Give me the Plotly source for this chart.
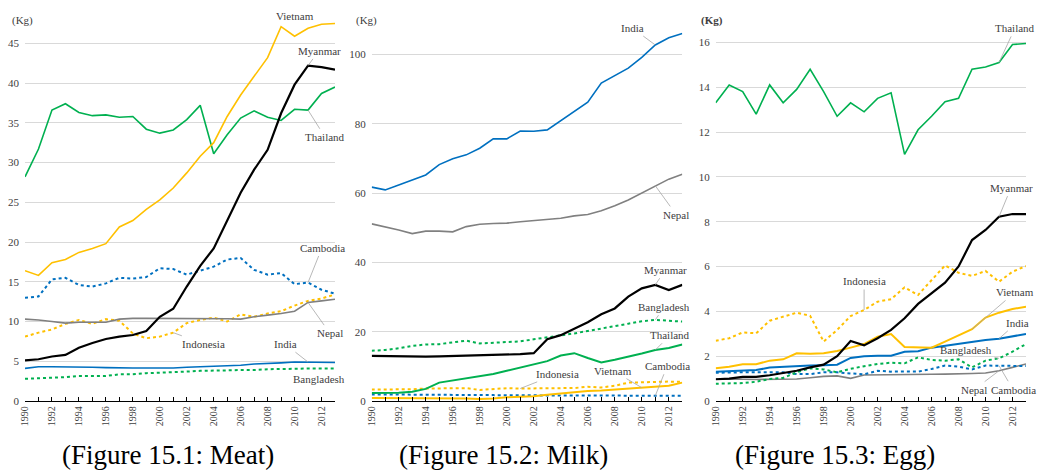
import plotly.graph_objects as go

years = list(range(1990, 2014))
tick_labels = [str(y) if y % 2 == 0 else "" for y in years]

# ---------- Meat (kg) ----------
meat_vietnam = [16.4, 15.8, 17.4, 17.8, 18.7, 19.2, 19.8, 21.9, 22.7, 24.1, 25.3, 26.8, 28.7, 30.8, 32.5, 35.8, 38.5, 40.9, 43.2, 47.1, 45.9, 46.9, 47.4, 47.5]
meat_myanmar = [5.1, 5.25, 5.6, 5.8, 6.7, 7.3, 7.8, 8.1, 8.3, 8.8, 10.6, 11.6, 14.4, 17.0, 19.2, 22.6, 26.2, 29.1, 31.6, 36.2, 39.8, 42.2, 42.0, 41.7]
meat_thailand = [28.2, 31.7, 36.6, 37.4, 36.3, 35.9, 36.0, 35.7, 35.8, 34.2, 33.7, 34.1, 35.4, 37.2, 31.1, 33.5, 35.6, 36.5, 35.7, 35.3, 36.7, 36.6, 38.7, 39.5]
meat_cambodia = [13.0, 13.15, 15.3, 15.5, 14.6, 14.4, 14.8, 15.5, 15.4, 15.6, 16.7, 16.6, 15.9, 16.4, 16.9, 17.8, 18.0, 16.5, 15.9, 16.1, 14.7, 14.9, 14.0, 13.5]
meat_nepal = [10.3, 10.2, 10.0, 9.8, 9.9, 9.9, 9.9, 10.3, 10.4, 10.4, 10.4, 10.4, 10.35, 10.35, 10.35, 10.35, 10.3, 10.6, 10.8, 11.0, 11.3, 12.4, 12.6, 12.8]
meat_indonesia = [8.1, 8.6, 9.0, 9.7, 10.2, 9.7, 10.3, 10.1, 8.5, 7.9, 8.1, 8.6, 9.8, 10.2, 10.5, 10.0, 10.9, 10.6, 11.0, 11.3, 12.0, 12.6, 12.9, 13.4]
meat_india = [4.1, 4.3, 4.3, 4.3, 4.25, 4.25, 4.2, 4.15, 4.15, 4.15, 4.15, 4.15, 4.25, 4.3, 4.35, 4.4, 4.5, 4.65, 4.7, 4.8, 4.9, 4.9, 4.85, 4.85]
meat_bangladesh = [2.8, 2.85, 2.9, 3.0, 3.15, 3.15, 3.15, 3.35, 3.35, 3.5, 3.55, 3.65, 3.7, 3.8, 3.8, 3.85, 3.9, 3.9, 4.0, 4.0, 4.05, 4.1, 4.1, 4.1]

# ---------- Milk (kg) ----------
milk_india = [61.7, 60.9, 62.3, 63.8, 65.2, 68.2, 69.9, 71.0, 72.9, 75.6, 75.6, 77.9, 77.8, 78.2, 80.8, 83.5, 86.2, 91.7, 93.8, 96.0, 99.1, 102.7, 104.8, 106.0]
milk_nepal = [51.1, 50.3, 49.3, 48.3, 49.0, 49.0, 48.8, 50.3, 51.0, 51.2, 51.3, 51.7, 52.0, 52.4, 52.7, 53.4, 53.8, 54.9, 56.3, 58.0, 60.0, 62.1, 64.0, 65.4]
milk_myanmar = [13.0, 12.9, 12.85, 12.8, 12.8, 12.9, 13.0, 13.1, 13.1, 13.2, 13.3, 13.5, 13.8, 17.8, 19.0, 20.8, 22.7, 25.0, 26.7, 30.1, 32.5, 33.5, 32.0, 33.5]
milk_bangladesh = [14.5, 14.7, 15.2, 15.9, 16.3, 16.4, 16.9, 17.4, 16.6, 16.8, 16.9, 17.2, 17.8, 18.3, 18.9, 19.5, 20.2, 20.8, 21.6, 22.3, 23.0, 23.4, 23.2, 22.9]
milk_thailand = [2.3, 2.3, 2.4, 2.7, 3.5, 5.3, 5.9, 6.5, 7.3, 7.8, 8.7, 9.7, 10.7, 11.5, 13.1, 13.8, 12.4, 11.1, 11.9, 12.7, 13.7, 14.7, 15.3, 16.3]
milk_indonesia = [3.3, 3.3, 3.4, 3.4, 3.6, 3.7, 3.75, 3.7, 3.2, 3.5, 3.7, 3.6, 3.6, 3.8, 3.8, 3.75, 4.1, 3.9, 4.4, 5.3, 5.4, 5.6, 5.6, 5.5]
milk_vietnam = [0.9, 0.9, 0.9, 0.9, 0.9, 0.9, 0.9, 0.7, 0.6, 0.7, 1.05, 1.25, 1.35, 1.8, 2.2, 2.7, 2.9, 3.0, 3.3, 3.6, 3.85, 4.1, 4.4, 5.3]
milk_cambodia = [1.9, 1.9, 1.85, 1.8, 1.8, 1.75, 1.7, 1.7, 1.7, 1.7, 1.65, 1.65, 1.6, 1.6, 1.6, 1.6, 1.6, 1.6, 1.6, 1.6, 1.55, 1.5, 1.5, 1.5]

# ---------- Egg (kg) ----------
egg_thailand = [13.3, 14.1, 13.8, 12.8, 14.1, 13.3, 13.9, 14.8, 13.8, 12.7, 13.3, 12.9, 13.5, 13.75, 11.0, 12.1, 12.7, 13.35, 13.5, 14.8, 14.9, 15.1, 15.9, 15.95]
egg_myanmar = [0.97, 1.0, 1.08, 1.08, 1.15, 1.26, 1.35, 1.5, 1.62, 2.0, 2.68, 2.48, 2.8, 3.17, 3.69, 4.33, 4.8, 5.28, 6.0, 7.18, 7.63, 8.22, 8.34, 8.34]
egg_indonesia = [2.69, 2.8, 3.06, 3.02, 3.58, 3.76, 3.94, 3.8, 2.65, 3.17, 3.79, 4.06, 4.43, 4.54, 5.07, 4.73, 5.4, 6.05, 5.72, 5.58, 5.8, 5.32, 5.77, 6.02]
egg_vietnam = [1.46, 1.53, 1.64, 1.64, 1.8, 1.86, 2.13, 2.11, 2.13, 2.23, 2.38, 2.54, 2.87, 2.99, 2.41, 2.38, 2.38, 2.65, 2.91, 3.2, 3.72, 3.94, 4.1, 4.21]
egg_india = [1.31, 1.34, 1.35, 1.38, 1.49, 1.53, 1.56, 1.58, 1.6, 1.62, 1.92, 2.0, 2.02, 2.02, 2.2, 2.22, 2.38, 2.47, 2.53, 2.65, 2.72, 2.78, 2.88, 2.99]
egg_bangladesh = [0.77, 0.77, 0.8, 0.86, 0.98, 1.03, 1.28, 1.46, 1.41, 1.28, 1.44, 1.55, 1.65, 1.71, 1.68, 1.95, 1.83, 1.8, 1.86, 1.5, 1.8, 1.9, 2.2, 2.54]
egg_cambodia = [1.26, 1.28, 1.28, 1.28, 1.28, 1.28, 1.2, 1.2, 1.28, 1.28, 1.23, 1.19, 1.35, 1.31, 1.32, 1.31, 1.43, 1.58, 1.53, 1.41, 1.58, 1.58, 1.56, 1.56]
egg_nepal = [0.97, 0.98, 0.97, 0.96, 0.96, 0.97, 0.98, 1.04, 1.1, 1.12, 1.01, 1.16, 1.16, 1.16, 1.17, 1.17, 1.19, 1.2, 1.23, 1.23, 1.25, 1.35, 1.5, 1.65]

titles = ["(Figure 15.1: Meat)", "(Figure 15.2: Milk)", "(Figure 15.3: Egg)"]

GOLD = "#FFC000"
GREEN = "#00B050"
BLUE = "#0070C0"
GRAY = "#808080"
BLACK = "#000000"
SERIF = "Liberation Serif"
TXT = "#404040"

W, H = 1037, 471
fig = go.Figure()

def add(x_ax, y_ax, y, color, dash="solid", width=1.6):
    fig.add_trace(go.Scatter(x=years, y=y, mode="lines", xaxis=x_ax, yaxis=y_ax,
                             line=dict(color=color, dash=dash, width=width),
                             showlegend=False, hoverinfo="skip"))

# Meat
add("x", "y", meat_bangladesh, GREEN, "dot", 2)
add("x", "y", meat_india, BLUE)
add("x", "y", meat_indonesia, GOLD, "dot", 2)
add("x", "y", meat_nepal, GRAY)
add("x", "y", meat_cambodia, BLUE, "dot", 2)
add("x", "y", meat_thailand, GREEN)
add("x", "y", meat_myanmar, BLACK, width=2.2)
add("x", "y", meat_vietnam, GOLD)
# Milk
add("x2", "y2", milk_cambodia, BLUE, "dot", 2)
add("x2", "y2", milk_indonesia, GOLD, "dot", 2)
add("x2", "y2", milk_vietnam, GOLD, width=2)
add("x2", "y2", milk_thailand, GREEN, width=2)
add("x2", "y2", milk_bangladesh, GREEN, "dot", 2)
add("x2", "y2", milk_myanmar, BLACK, width=2.2)
add("x2", "y2", milk_nepal, GRAY)
add("x2", "y2", milk_india, BLUE)
# Egg
add("x3", "y3", egg_nepal, GRAY)
add("x3", "y3", egg_cambodia, BLUE, "dot", 2)
add("x3", "y3", egg_bangladesh, GREEN, "dot", 2)
add("x3", "y3", egg_india, BLUE, width=2)
add("x3", "y3", egg_vietnam, GOLD, width=2)
add("x3", "y3", egg_indonesia, GOLD, "dot", 2)
add("x3", "y3", egg_myanmar, BLACK, width=2.2)
add("x3", "y3", egg_thailand, GREEN)

# axes geometry (pixels)
y_bot, y_top = 401, 18
panels = [
    (25, 335, 7.948, 5),
    (371.7, 682.3, 3.4667, 20),
    (715.7, 1026, 22.417, 2),
]
for i, (xl, xr, ppu, dt) in enumerate(panels):
    sfx = "" if i == 0 else str(i + 1)
    fig.layout["xaxis" + sfx] = dict(
        domain=[xl / W, xr / W], range=[1990, 2013], anchor="y" + sfx,
        tickmode="array", tickvals=years, ticktext=tick_labels, tickangle=-90,
        ticks="inside", ticklen=4, tickcolor="black", tickwidth=1,
        showline=True, linecolor="black", linewidth=1.3, showgrid=False, zeroline=False,
        tickfont=dict(family=SERIF, size=10, color=TXT), fixedrange=True, automargin=False)
    fig.layout["yaxis" + sfx] = dict(
        domain=[1 - y_bot / H, 1 - y_top / H], range=[0, (y_bot - y_top) / ppu],
        anchor="x" + sfx, dtick=dt, tick0=0, showgrid=True, gridcolor="#D9D9D9", gridwidth=1,
        zeroline=False, showline=False, ticks="", ticklabelstandoff=5,
        tickfont=dict(family=SERIF, size=11, color=TXT), fixedrange=True, automargin=False)

ann = []
def lab(text, xr, yr, x, y, ax, ay, arrow=True, xshift=0, yshift=0):
    d = dict(text=text, xref=xr, yref=yr, x=x, y=y, showarrow=arrow,
             xanchor="center", yanchor="middle",
             font=dict(family=SERIF, size=11, color=TXT))
    if arrow:
        d.update(ax=ax, ay=ay, axref="pixel", ayref="pixel", arrowhead=0,
                 arrowwidth=0.8, arrowcolor="#A6A6A6", standoff=0, startstandoff=1)
    else:
        d.update(xshift=xshift, yshift=yshift)
    ann.append(d)

idx = {y: i for i, y in enumerate(years)}
# Meat labels
lab("Vietnam", "x", "y", 2009, meat_vietnam[idx[2009]], 0, 0, arrow=False, xshift=14, yshift=11)
lab("Myanmar", "x", "y", 2011, meat_myanmar[idx[2011]], 11, -15)
lab("Thailand", "x", "y", 2011, meat_thailand[idx[2011]], 17, 27)
lab("Cambodia", "x", "y", 2011, meat_cambodia[idx[2011]], 14, -35)
lab("Nepal", "x", "y", 2011, meat_nepal[idx[2011]], 22, 31)
lab("Indonesia", "x", "y", 2001, meat_indonesia[idx[2001]], 30, 11)
lab("India", "x", "y", 2011, meat_india[idx[2011]], -23, -18)
lab("Bangladesh", "x", "y", 2011, meat_bangladesh[idx[2011]], 0, 0, arrow=False, xshift=11, yshift=-10.6)
# Milk labels
lab("India", "x2", "y2", 2011, milk_india[idx[2011]], -23, -17)
lab("Nepal", "x2", "y2", 2011, milk_nepal[idx[2011]], 21, 29)
lab("Myanmar", "x2", "y2", 2011, milk_myanmar[idx[2011]], 10, -15)
lab("Bangladesh", "x2", "y2", 2011, milk_bangladesh[idx[2011]], 9, -13)
lab("Thailand", "x2", "y2", 2011, milk_thailand[idx[2011]], 15, -15)
lab("Cambodia", "x2", "y2", 2011, milk_cambodia[idx[2011]], 12, -30)
lab("Vietnam", "x2", "y2", 2010, milk_vietnam[idx[2010]], -29, -17)
lab("Indonesia", "x2", "y2", 2001, milk_indonesia[idx[2001]], 37, -14.5)
# Egg labels
lab("Thailand", "x3", "y3", 2011, egg_thailand[idx[2011]], 16, -34.5)
lab("Myanmar", "x3", "y3", 2011, egg_myanmar[idx[2011]], 12, -29)
lab("Indonesia", "x3", "y3", 2001, egg_indonesia[idx[2001]], 0, -29)
lab("Vietnam", "x3", "y3", 2009, egg_vietnam[idx[2009]], 43, -37)
lab("India", "x3", "y3", 2011, egg_india[idx[2011]], 18, -16)
lab("Bangladesh", "x3", "y3", 2011, egg_bangladesh[idx[2011]], -33, -8)
lab("Nepal", "x3", "y3", 2011, egg_nepal[idx[2011]], -25, 19)
lab("Cambodia", "x3", "y3", 2011, egg_cambodia[idx[2011]], 14, 24)

# unit labels
for i, (px, bold) in enumerate([(22, False), (366, False), (712, True)]):
    t = "<b>(Kg)</b>" if bold else "(Kg)"
    ann.append(dict(text=t, xref="paper", yref="paper", x=px / W, y=1 - 21 / H,
                    xanchor="center", yanchor="middle",
                    showarrow=False, font=dict(family=SERIF, size=11, color=TXT)))
# figure titles
for t, px in zip(titles, [168, 503, 835]):
    ann.append(dict(text=t, xref="paper", yref="paper", x=px / W, y=1 - 455 / H,
                    xanchor="center", yanchor="middle",
                    showarrow=False, font=dict(family=SERIF, size=27, color="black")))

fig.update_layout(width=W, height=H, margin=dict(l=0, r=0, t=0, b=0, autoexpand=False),
                  paper_bgcolor="white", plot_bgcolor="white", annotations=ann)

fig.write_html("out.html", config={"displayModeBar": False},
               post_script="document.body.style.margin='0';document.body.style.padding='0';document.body.style.overflow='hidden';")
